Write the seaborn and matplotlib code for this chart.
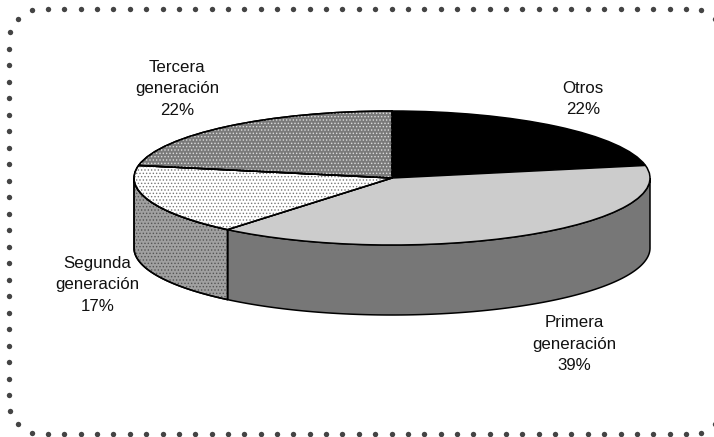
import numpy as np
import matplotlib
matplotlib.use('Agg')
import matplotlib.pyplot as plt
from matplotlib.patches import Wedge
import seaborn as sns

labels = ['Otros', 'Primera\ngeneración', 'Segunda\ngeneración', 'Tercera\ngeneración']
values = [22, 39, 17, 22]
top_colors = ['#000000', '#cccccc', '#ffffff', '#7a7a7a']
side_colors = ['#000000', '#777777', '#a0a0a0', '#7a7a7a']
hatches = [None, None, '.....', '.....']
hatch_colors = ['black', 'black', '#777777', '#dddddd']
label_xy = [(583, 99), (574.5, 344), (97.5, 285), (177, 89)]


def frame_dots():
    # dotted border, the right edge runs off the canvas
    left, right, top, bottom = 8.5, 724, 9, 434
    xs = np.linspace(48, 686, 40)
    ys = np.linspace(49, 395, 22)
    px = list(xs) + list(xs) + [left] * len(ys)
    py = [top] * len(xs) + [bottom] * len(xs) + list(ys)
    for dx, dy in [(23.5, 1), (9.5, 10), (1, 23)]:
        px += [left + dx, left + dx, right - dx, right - dx]
        py += [top + dy, bottom - dy, top + dy, bottom - dy]
    return px, py


def main():
    sns.set_theme(style='white')
    plt.rcParams['font.family'] = ['Liberation Sans', 'DejaVu Sans']
    plt.rcParams['hatch.linewidth'] = 0.6

    fig = plt.figure(figsize=(7.14, 4.37), dpi=100)
    ax = fig.add_axes([0, 0, 1, 1])

    # one data unit is the pie radius, squashed to an ellipse
    cx, cy, rx, ry, depth = 392, 178, 258, 67, 70
    lw = 1.1
    ax.set_axis_off()

    fractions = np.cumsum([0] + values) / sum(values) * 2 * np.pi
    # side wall, only the front half of the rim shows
    for i in range(len(values)):
        a0 = max(fractions[i], np.pi / 2)
        a1 = min(fractions[i + 1], 3 * np.pi / 2)
        if a1 <= a0:
            continue
        t = np.linspace(a0, a1, 200)
        xs = np.r_[np.sin(t), np.sin(t)[::-1]]
        ys = np.r_[np.cos(t), np.cos(t)[::-1] - depth / ry]
        ax.fill(xs, ys, facecolor=side_colors[i], edgecolor='black', linewidth=lw, zorder=1)
        if hatches[i]:
            ax.fill(xs, ys, facecolor='none', edgecolor='#555555', hatch=hatches[i],
                    linewidth=0, zorder=1.5)
            ax.plot(np.r_[xs, xs[0]], np.r_[ys, ys[0]], color='black', linewidth=lw, zorder=1.6)

    wedges, _ = ax.pie(values, colors=top_colors, startangle=90, counterclock=False,
                       radius=1, wedgeprops={'edgecolor': 'black', 'linewidth': lw})
    for w, h, hc in zip(wedges, hatches, hatch_colors):
        w.set_zorder(2)
        if h:
            # second pass for the dots, so the outline stays black
            ax.add_patch(Wedge(w.center, w.r, w.theta1, w.theta2, facecolor='none',
                               edgecolor=hc, hatch=h, linewidth=0, zorder=2.1))
            ax.add_patch(Wedge(w.center, w.r, w.theta1, w.theta2, facecolor='none',
                               edgecolor='black', linewidth=lw, zorder=2.2))

    ax.set_aspect('auto')
    ax.set_xlim(-cx / rx, (714 - cx) / rx)
    ax.set_ylim((cy - 437) / ry, cy / ry)

    # overlay in pixel coordinates for the labels and the dotted frame
    over = fig.add_axes([0, 0, 1, 1], facecolor='none')
    over.set_xlim(0, 714)
    over.set_ylim(437, 0)
    over.set_axis_off()

    for name, val, (x, y) in zip(labels, values, label_xy):
        over.text(x, y, f'{name}\n{val}%', ha='center', va='center',
                  fontsize=12.2, color='#111111', linespacing=1.56)

    px, py = frame_dots()
    over.scatter(px, py, s=15, color='#444444', linewidths=0)

    fig.savefig('out.png', dpi=100)


if __name__ == "__main__":
    main()
